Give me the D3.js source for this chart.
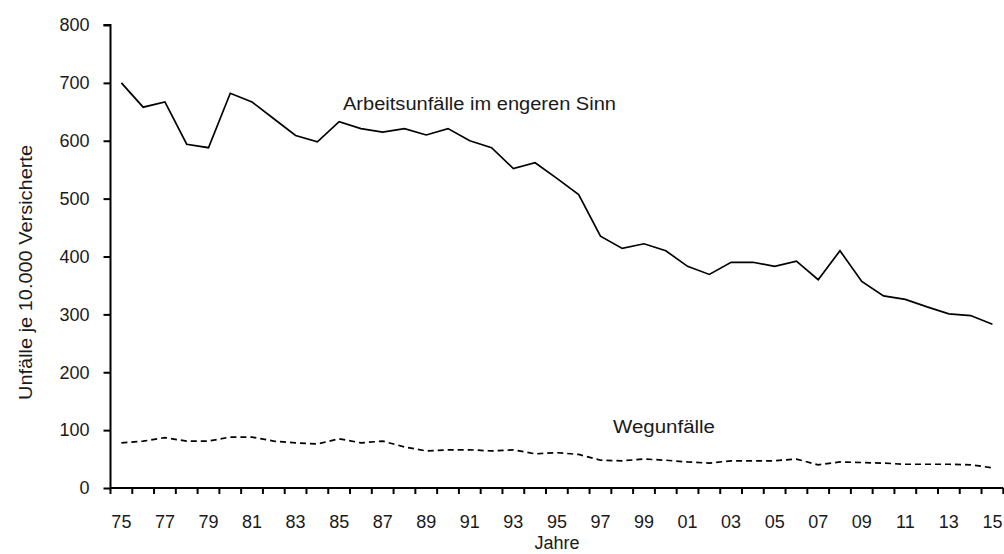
<!DOCTYPE html>
<html>
<head>
<meta charset="utf-8">
<script src="https://cdn.jsdelivr.net/npm/d3@7"></script>
<style>
  html, body { margin: 0; padding: 0; background: #fff; }
  svg { display: block; }
  text { font-family: "Liberation Sans", Arial, sans-serif; fill: #1a1a1a; }
</style>
</head>
<body>
<svg id="chart" width="1004" height="554"></svg>
<script>
const years = ["1975","1976","1977","1978","1979","1980","1981","1982","1983","1984",
  "1985","1986","1987","1988","1989","1990","1991","1992","1993","1994",
  "1995","1996","1997","1998","1999","2000","2001","2002","2003","2004",
  "2005","2006","2007","2008","2009","2010","2011","2012","2013","2014","2015"];
const arbeitsunfaelle = [700,658,667,594,588,682,667,638,609,598,
  633,621,615,621,610,621,600,588,552,562,
  535,507,435,414,422,410,383,369,390,390,
  383,392,360,410,357,332,326,313,301,298,283];
const wegunfaelle = [78,81,87,81,81,88,88,81,78,76,
  85,78,81,71,64,66,66,64,66,59,
  61,58,48,47,50,48,45,43,47,47,
  47,50,40,45,44,43,41,41,41,40,35];
const yTicks = [0,100,200,300,400,500,600,700,800];
const labelArbeit = "Arbeitsunfälle im engeren Sinn";
const labelWeg = "Wegunfälle";
const yTitle = "Unfälle je 10.000 Versicherte";
const xTitle = "Jahre";

(function () {
const svg = d3.select("#chart");
const mLeft = 110.5, mRight = 1003.3, mTop = 25, mBottom = 488;

const x = d3.scaleBand().domain(years).range([mLeft, mRight]).padding(0);
const y = d3.scaleLinear().domain([0, 800]).range([mBottom, mTop]);
const cx = d => x(d) + x.bandwidth() / 2;

// Y axis
const yAxis = d3.axisLeft(y).tickValues(yTicks).tickSize(7).tickPadding(14).tickFormat(d3.format("d"));
const gy = svg.append("g").attr("transform", `translate(${mLeft},0)`).call(yAxis);
gy.select(".domain").attr("stroke", "#000").attr("stroke-width", 2).attr("d", `M-7,${mTop}H0V${mBottom}`);
gy.selectAll(".tick line").attr("stroke", "#000").attr("stroke-width", 2);
gy.selectAll(".tick text").attr("font-size", 18).attr("font-family", "Liberation Sans, Arial, sans-serif").attr("fill", "#1a1a1a");

// X axis: labels centered in bands, ticks at band edges
const xAxis = d3.axisBottom(x).tickSize(0).tickPadding(27)
  .tickFormat((d, i) => i % 2 === 0 ? d.slice(2) : "");
const gx = svg.append("g").attr("transform", `translate(0,${mBottom})`).call(xAxis);
gx.select(".domain").remove();
gx.selectAll(".tick text").attr("font-size", 18).attr("font-family", "Liberation Sans, Arial, sans-serif").attr("fill", "#1a1a1a");
const edges = years.map(d => x(d)).concat([x(years[years.length - 1]) + x.bandwidth()]);
gx.selectAll("line.edge").data(edges).enter().append("line")
  .attr("class", "edge")
  .attr("x1", d => d).attr("x2", d => d)
  .attr("y1", 0).attr("y2", 6)
  .attr("stroke", "#000").attr("stroke-width", 2);
gx.append("line").attr("x1", mLeft).attr("x2", mRight).attr("y1", 0).attr("y2", 0)
  .attr("stroke", "#000").attr("stroke-width", 2);

// Lines
const line = d3.line().x((d, i) => cx(years[i])).y(d => y(d));
svg.append("path").datum(arbeitsunfaelle).attr("d", line)
  .attr("fill", "none").attr("stroke", "#000").attr("stroke-width", 1.7).attr("stroke-linejoin", "miter");
svg.append("path").datum(wegunfaelle).attr("d", line)
  .attr("fill", "none").attr("stroke", "#000").attr("stroke-width", 1.7).attr("stroke-dasharray", "6,4");

// Series labels
svg.append("text").attr("x", 343).attr("y", 110).attr("font-size", 18)
  .attr("textLength", 273).attr("lengthAdjust", "spacingAndGlyphs").text(labelArbeit);
svg.append("text").attr("x", 613).attr("y", 433).attr("font-size", 18)
  .attr("textLength", 102).attr("lengthAdjust", "spacingAndGlyphs").text(labelWeg);

// Axis titles
svg.append("text").attr("transform", "translate(32,272.5) rotate(-90)")
  .attr("text-anchor", "middle").attr("font-size", 18)
  .attr("textLength", 255).attr("lengthAdjust", "spacingAndGlyphs").text(yTitle);
svg.append("text").attr("x", (mLeft + mRight) / 2).attr("y", 549)
  .attr("text-anchor", "middle").attr("font-size", 18).text(xTitle);
})();
</script>
</body>
</html>
